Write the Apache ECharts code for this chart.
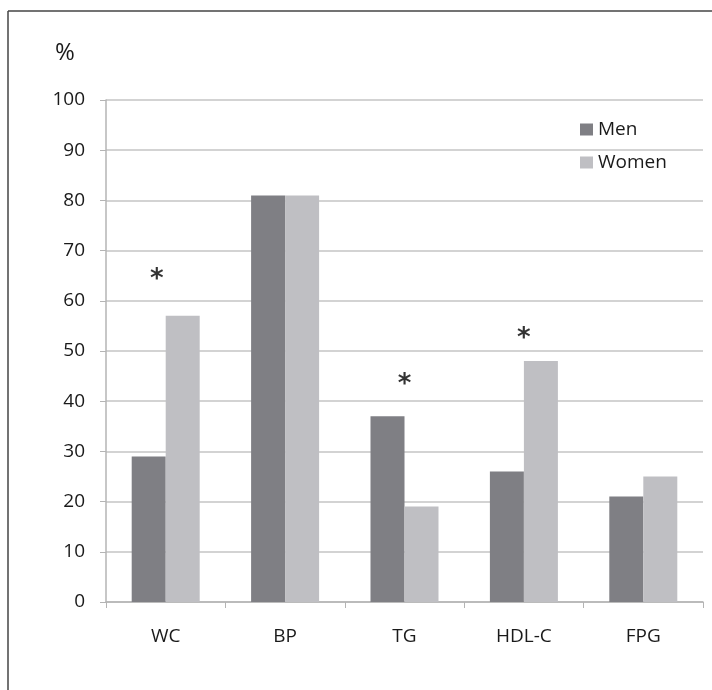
<!DOCTYPE html>
<html>
<head>
<meta charset="utf-8">
<script src="https://cdn.jsdelivr.net/npm/echarts@6/dist/echarts.min.js"></script>
<style>
html,body{margin:0;padding:0;background:#fff;}
#chart{width:712px;height:690px;}
</style>
</head>
<body>
<div id="chart"></div>
<script>
var categories = ['WC', 'BP', 'TG', 'HDL-C', 'FPG'];
var menValues = [29, 81, 37, 26, 21];
var womenValues = [57, 81, 19, 48, 25];
var yTicks = [0, 10, 20, 30, 40, 50, 60, 70, 80, 90, 100];
var significanceCats = ['WC', 'TG', 'HDL-C'];
var significanceLevels = [65.3, 44.4, 53.6];

var FONT = '"Open Sans", "Noto Sans", sans-serif';
var chart = echarts.init(document.getElementById('chart'), null, {renderer: 'canvas'});

var starData = significanceCats.map(function (c, i) {
  var item = {value: [c, significanceLevels[i]]};
  if (c === 'WC') { item.label = {offset: [-9, 6]}; }
  return item;
});

chart.setOption({
  backgroundColor: '#ffffff',
  animation: false,
  textStyle: {fontFamily: FONT},
  graphic: [
    {type: 'line', shape: {x1: 8, y1: 11, x2: 712, y2: 11}, style: {stroke: '#444', lineWidth: 1.5}},
    {type: 'line', shape: {x1: 8, y1: 11, x2: 8, y2: 690}, style: {stroke: '#444', lineWidth: 1.5}},
    {type: 'text', left: 55, top: 41, style: {text: '%', font: '24px ' + FONT, fill: '#1a1a1a'}}
  ],
  legend: {
    orient: 'vertical',
    left: 580,
    top: 120,
    padding: 0,
    itemWidth: 13,
    itemHeight: 12,
    itemGap: 14,
    icon: 'rect',
    textStyle: {fontSize: 19, color: '#1a1a1a', fontFamily: FONT, padding: [0, 0, 0, 0]},
    data: ['Men', 'Women']
  },
  grid: {left: 106, top: 100, width: 597, height: 502, containLabel: false},
  xAxis: {
    type: 'category',
    data: categories,
    axisLine: {lineStyle: {color: '#b4b4b4', width: 1.5}},
    axisTick: {show: true, length: 6, lineStyle: {color: '#b4b4b4'}},
    axisLabel: {fontSize: 19, color: '#1a1a1a', margin: 25, fontFamily: FONT},
    splitLine: {show: false}
  },
  yAxis: {
    type: 'value',
    min: yTicks[0],
    max: yTicks[yTicks.length - 1],
    interval: yTicks[1] - yTicks[0],
    axisLine: {show: true, lineStyle: {color: '#b4b4b4', width: 1.5}},
    axisTick: {show: true, length: 6, lineStyle: {color: '#b4b4b4'}},
    axisLabel: {fontSize: 19, color: '#1a1a1a', margin: 21, fontFamily: FONT},
    splitLine: {show: true, lineStyle: {color: '#c4c4c4', width: 1.5}}
  },
  series: [
    {name: 'Men', type: 'bar', data: menValues, barWidth: 34, barGap: '0%',
     itemStyle: {color: '#7f7f84'}},
    {name: 'Women', type: 'bar', data: womenValues, barWidth: 34, barGap: '0%',
     itemStyle: {color: '#bfbfc3'}},
    {name: 'sig', type: 'scatter', data: starData, symbolSize: 0, silent: true,
     label: {show: true, position: 'inside', formatter: '*', fontSize: 26, fontWeight: 'bold',
             color: '#000', fontFamily: 'DejaVu Sans', offset: [0, 6]}}
  ]
});
</script>
</body>
</html>
